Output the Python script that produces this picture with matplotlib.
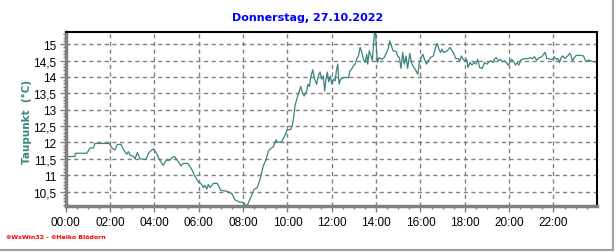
import matplotlib
matplotlib.use("Agg")
import matplotlib.pyplot as plt
from matplotlib.ticker import MultipleLocator, FixedLocator
from matplotlib.lines import Line2D

title = "Donnerstag, 27.10.2022"
ylabel = "Taupunkt  (°C)"
footer = "⊗WsWin32 - ⊗Heiko Blödorn"

hours = [0.0, 0.42, 0.43, 0.95, 1.1, 1.25, 1.32, 1.97, 2.07, 2.22, 2.33, 2.49, 2.6, 2.75, 2.83, 2.9,
         3.05, 3.13, 3.23, 3.35, 3.62, 3.73, 3.88, 3.95, 4.1, 4.22, 4.4, 4.52, 4.7, 4.83, 4.93,
         5.08, 5.2, 5.3, 5.5, 5.61, 5.68, 5.83, 5.98, 6.09, 6.21, 6.28, 6.36, 6.43, 6.51, 6.66,
         6.84, 6.99, 7.26, 7.49, 7.64, 7.83, 8.04, 8.16, 8.31, 8.49, 8.64, 8.76, 8.91, 9.04,
         9.14, 9.21, 9.36, 9.49, 9.54, 9.74, 9.89, 10.0, 10.12, 10.19, 10.27, 10.34, 10.42,
         10.49, 10.6, 10.67, 10.76, 10.87, 10.92, 10.99, 11.05, 11.14, 11.23, 11.32, 11.39,
         11.47, 11.55, 11.62, 11.68, 11.74, 11.8, 11.86, 11.94, 12.0, 12.07, 12.15, 12.22,
         12.27, 12.33, 12.4, 12.52, 12.75, 12.82, 12.9, 12.97, 13.05, 13.13, 13.2, 13.28,
         13.35, 13.42, 13.5, 13.58, 13.62, 13.69, 13.77, 13.83, 13.9, 13.93, 13.97, 14.0,
         14.06, 14.14, 14.26, 14.36, 14.48, 14.56, 14.61, 14.67, 14.76, 14.91, 14.97, 15.05,
         15.12, 15.2, 15.27, 15.35, 15.42, 15.52, 15.59, 15.7, 15.8, 15.88, 15.95, 16.03,
         16.11, 16.18, 16.27, 16.35, 16.45, 16.58, 16.68, 16.76, 16.83, 16.91, 16.97, 17.03,
         17.14, 17.24, 17.33, 17.41, 17.52, 17.59, 17.7, 17.77, 17.85, 17.92, 18.0, 18.08,
         18.15, 18.23, 18.32, 18.42, 18.5, 18.58, 18.67, 18.79, 18.89, 19.0, 19.09, 19.2,
         19.27, 19.35, 19.42, 19.53, 19.61, 19.7, 19.8, 19.88, 19.95, 20.03, 20.11, 20.18,
         20.29, 20.36, 20.44, 20.53, 20.61, 20.71, 20.86, 20.97, 21.06, 21.14, 21.24, 21.36,
         21.47, 21.55, 21.62, 21.7, 21.77, 21.88, 21.97, 22.03, 22.12, 22.2, 22.27, 22.35,
         22.42, 22.53, 22.64, 22.73, 22.79, 22.86, 22.94, 23.03, 23.21, 23.36, 23.44, 23.52,
         23.59, 23.67, 23.82, 23.94]

dewpoint = [11.57, 11.57, 11.67, 11.67, 11.83, 11.83, 11.97, 11.97, 11.84, 11.77, 11.94, 11.94,
            11.79, 11.64, 11.72, 11.61, 11.58, 11.5, 11.69, 11.5, 11.48, 11.67, 11.77, 11.8,
            11.67, 11.48, 11.3, 11.45, 11.46, 11.56, 11.56, 11.4, 11.28, 11.36, 11.36, 11.26,
            11.18, 10.97, 10.79, 10.75, 10.62, 10.69, 10.57, 10.72, 10.62, 10.75, 10.75, 10.54,
            10.51, 10.44, 10.24, 10.18, 10.16, 10.04, 10.26, 10.56, 10.62, 10.87, 11.28, 11.48,
            11.74, 11.79, 11.87, 12.08, 12.0, 12.02, 12.22, 12.4, 12.38, 12.45, 12.71, 13.12,
            13.32, 13.47, 13.71, 13.52, 13.42, 13.57, 13.78, 13.71, 13.98, 14.22, 13.93, 13.78,
            14.03, 14.15, 13.93, 14.03, 13.57, 13.93, 14.15, 13.85, 14.03, 13.78, 13.93, 13.88,
            14.24, 14.39, 13.78, 13.93, 13.98, 13.98, 14.19, 14.24, 14.34, 14.39, 14.56, 14.64,
            14.9, 14.77, 14.56, 14.44, 14.69, 14.39, 14.8, 14.64, 14.5, 15.1, 15.4, 15.4, 15.0,
            14.44, 14.59, 14.54, 14.59, 14.75, 14.9, 15.1, 15.0, 14.8, 14.77, 14.64, 14.59,
            14.26, 14.75, 14.39, 14.64, 14.26, 14.72, 14.44, 14.29, 14.19, 14.08, 14.44, 14.59,
            14.69, 14.54, 14.39, 14.49, 14.59, 14.64, 14.9, 15.02, 14.85, 14.75, 14.85, 14.75,
            14.77, 14.82, 14.9, 14.82, 14.69, 14.56, 14.56, 14.49, 14.64, 14.54, 14.49, 14.54,
            14.29, 14.44, 14.36, 14.44, 14.39, 14.54, 14.29, 14.26, 14.44, 14.39, 14.46, 14.49,
            14.44, 14.56, 14.59, 14.49, 14.54, 14.46, 14.49, 14.44, 14.36, 14.44, 14.54, 14.49,
            14.36, 14.44, 14.36, 14.52, 14.54, 14.56, 14.56, 14.59, 14.56, 14.62, 14.51, 14.59,
            14.61, 14.69, 14.75, 14.56, 14.56, 14.54, 14.54, 14.62, 14.54, 14.56, 14.44, 14.59,
            14.64, 14.56, 14.64, 14.72, 14.66, 14.49, 14.59, 14.66, 14.66, 14.64, 14.49, 14.49,
            14.52, 14.49, 14.46, 14.46]

x_ticks = list(range(0, 24, 2))
x_labels = ["%02d:00" % h for h in x_ticks]
y_ticks = [10.5, 11, 11.5, 12, 12.5, 13, 13.5, 14, 14.5, 15]
y_labels = ["10,5", "11", "11,5", "12", "12,5", "13", "13,5", "14", "14,5", "15"]

fig = plt.figure(figsize=(6.16, 2.53), dpi=100)
fig.patch.set_facecolor("white")
ax = fig.add_axes([0.1067, 0.1806, 0.862, 0.6874])

ax.plot(hours, dewpoint, color="#3A8580", lw=0.9, clip_on=True)
ax.set_xlim(0, 23.95)
ax.set_ylim(10.05, 15.36)

ax.xaxis.set_major_locator(FixedLocator(x_ticks))
ax.set_xticklabels(x_labels)
ax.xaxis.set_minor_locator(MultipleLocator(0.5))
ax.yaxis.set_major_locator(FixedLocator(y_ticks))
ax.set_yticklabels(y_labels)
ax.yaxis.set_minor_locator(MultipleLocator(0.1))

ax.grid(True, which="major", color="#808080", linestyle=(0, (3, 2.5)), lw=1.0)
ax.tick_params(axis="both", which="major", length=4, width=1, color="#808080",
               labelsize=8, labelcolor="black", pad=3)
ax.tick_params(axis="both", which="minor", length=2, width=1, color="#808080")
for lab in ax.get_xticklabels() + ax.get_yticklabels():
    lab.set_family("Liberation Sans")
    lab.set_fontsize(8.5)

for s in ["left", "bottom"]:
    ax.spines[s].set_color("#808080")
    ax.spines[s].set_linewidth(2.5)
for s in ["top", "right"]:
    ax.spines[s].set_color("black")
    ax.spines[s].set_linewidth(1.5)

fig.text(0.5, 0.93, title, ha="center", va="center", color="#0000FF",
         fontsize=8, fontweight="bold", family="DejaVu Sans")
fig.text(0.043, 0.52, ylabel, ha="center", va="center", rotation=90,
         color="#3A8580", fontsize=7.5, fontweight="bold", family="DejaVu Sans")
fig.text(0.01, 0.06, footer, ha="left", va="center", color="#FF0000",
         fontsize=4.5, fontweight="bold", family="DejaVu Sans")

# figure frame lines (bottom and right, gray)
fig.add_artist(Line2D([0, 0.995], [0.006, 0.006], transform=fig.transFigure,
                      color="#A0A0A0", lw=1.5))
fig.add_artist(Line2D([0.995, 0.995], [0.006, 1.0], transform=fig.transFigure,
                      color="#A0A0A0", lw=1.5))

fig.savefig("out.png", dpi=100)
